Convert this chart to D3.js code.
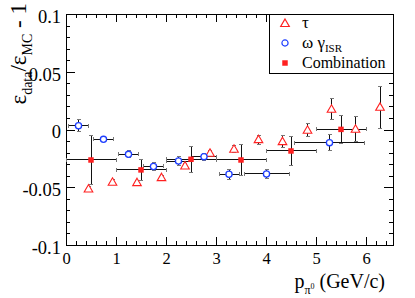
<!DOCTYPE html>
<html>
<head>
<meta charset="utf-8">
<script src="https://cdn.jsdelivr.net/npm/d3@7"></script>
</head>
<body style="margin:0">
<script>
// tau sample (open triangles)
var tauX = [0.45, 0.93, 1.42, 1.91, 2.38, 2.88, 3.36, 3.85, 4.33, 4.83, 5.31, 5.79, 6.28];
var tauY = [-0.0515, -0.0457, -0.046, -0.0417, -0.0316, -0.0206, -0.0171, -0.0088, -0.0105, -0.0006, 0.0175, 0.0002, 0.0192];
var tauErr = [0.002, 0.002, 0.002, 0.002, 0.002, 0.002, 0.003, 0.004, 0.005, 0.0055, 0.009, 0.011, 0.018];

// omega gamma ISR sample (open circles)
var omegaX = [0.25, 0.75, 1.25, 1.75, 2.25, 2.76, 3.26, 4.01, 5.27];
var omegaY = [0.0033, -0.0085, -0.0215, -0.032, -0.0273, -0.0235, -0.0388, -0.0385, -0.0114];
var omegaXErr = [0.2, 0.2, 0.2, 0.2, 0.25, 0.25, 0.2, 0.45, 0.7];
var omegaYErr = [0.0054, 0.002, 0.003, 0.0036, 0.004, 0.003, 0.0045, 0.004, 0.007];

// combination (filled squares)
var comboX = [0.5, 1.5, 2.5, 3.5, 4.5, 5.5];
var comboY = [-0.0264, -0.035, -0.0258, -0.0264, -0.0186, 0.0001];
var comboXErr = [0.5, 0.5, 0.5, 0.5, 0.5, 0.5];
var comboYErr = [0.0216, 0.009, 0.011, 0.013, 0.0128, 0.0123];

var xMajor = [0, 1, 2, 3, 4, 5, 6];
var yMajor = [-0.1, -0.05, 0, 0.05, 0.1];

var W = 415, H = 298;
var frame = {left: 66, right: 393, top: 14, bottom: 245};

var svg = d3.select("body").append("svg")
  .attr("width", W)
  .attr("height", H);

var x = d3.scaleLinear().domain([0, 6.54]).range([frame.left, frame.right]);
var y = d3.scaleLinear().domain([-0.1, 0.1]).range([frame.bottom, frame.top]);

var xMinor = d3.range(0, 6.54, 0.2);
var yMinor = d3.range(-0.1, 0.1001, 0.01);

var fmt = function(d) { return String(+d.toFixed(2)); };

// serif label helper
var label = function(sel, size) {
  return sel.style("font-family", "'Liberation Serif'").style("font-size", size + "px");
};

// axes, ticks pointing inwards
var axes = svg.append("g");

var drawAxis = function(axis, tx, ty) {
  var g = axes.append("g").attr("transform", "translate(" + tx + "," + ty + ")").call(axis);
  g.select(".domain").remove();
  g.selectAll("line").attr("stroke", "#000").attr("shape-rendering", "crispEdges");
  return g;
};

drawAxis(d3.axisBottom(x).tickValues(xMinor).tickSize(-4).tickFormat(""), 0, frame.bottom).selectAll("text").remove();
drawAxis(d3.axisTop(x).tickValues(xMinor).tickSize(-4).tickFormat(""), 0, frame.top).selectAll("text").remove();
drawAxis(d3.axisTop(x).tickValues(xMajor).tickSize(-8).tickFormat(""), 0, frame.top).selectAll("text").remove();
drawAxis(d3.axisLeft(y).tickValues(yMinor).tickSize(-4).tickFormat(""), frame.left, 0).selectAll("text").remove();
drawAxis(d3.axisRight(y).tickValues(yMinor).tickSize(-4).tickFormat(""), frame.right, 0).selectAll("text").remove();
drawAxis(d3.axisRight(y).tickValues(yMajor).tickSize(-9).tickFormat(""), frame.right, 0).selectAll("text").remove();

var gx = drawAxis(d3.axisBottom(x).tickValues(xMajor).tickSize(-8).tickPadding(7).tickFormat(fmt), 0, frame.bottom);
label(gx.selectAll("text").attr("fill", "#000"), 16.5);

var gy = drawAxis(d3.axisLeft(y).tickValues(yMajor).tickSize(-9).tickPadding(5).tickFormat(fmt), frame.left, 0);
label(gy.selectAll("text").attr("fill", "#000").attr("dy", "0.45em"), 18.5);

svg.append("rect")
  .attr("x", frame.left).attr("y", frame.top)
  .attr("width", frame.right - frame.left).attr("height", frame.bottom - frame.top)
  .attr("fill", "none").attr("stroke", "#000").attr("shape-rendering", "crispEdges");

// error bars with small end caps
var errLayer = svg.append("g").attr("stroke", "#111").attr("stroke-width", 1).attr("shape-rendering", "crispEdges");

var drawErrors = function(xs, ys, xe, ye) {
  xs.forEach(function(xv, i) {
    var cx = x(xv), cy = y(ys[i]);
    if (xe && xe[i] > 0) {
      var x0 = x(xv - xe[i]), x1 = x(xv + xe[i]);
      errLayer.append("line").attr("x1", x0).attr("x2", x1).attr("y1", cy).attr("y2", cy);
      errLayer.append("line").attr("x1", x0).attr("x2", x0).attr("y1", cy - 2).attr("y2", cy + 2).attr("stroke", "#777");
      errLayer.append("line").attr("x1", x1).attr("x2", x1).attr("y1", cy - 2).attr("y2", cy + 2).attr("stroke", "#777");
    }
    if (ye && ye[i] > 0) {
      var y0 = y(ys[i] - ye[i]), y1 = y(ys[i] + ye[i]);
      errLayer.append("line").attr("x1", cx).attr("x2", cx).attr("y1", y0).attr("y2", y1);
      errLayer.append("line").attr("x1", cx - 2).attr("x2", cx + 2).attr("y1", y0).attr("y2", y0).attr("stroke", "#777");
      errLayer.append("line").attr("x1", cx - 2).attr("x2", cx + 2).attr("y1", y1).attr("y2", y1).attr("stroke", "#777");
    }
  });
};

drawErrors(tauX, tauY, null, tauErr);
drawErrors(omegaX, omegaY, omegaXErr, omegaYErr);
drawErrors(comboX, comboY, comboXErr, comboYErr);

var triangle = d3.symbol().type(d3.symbolTriangle).size(32);
var circle = d3.symbol().type(d3.symbolCircle).size(30);
var square = d3.symbol().type(d3.symbolSquare).size(30);

var red = "#ff2020", blue = "#1f3fff";

svg.append("g").selectAll("path").data(tauX).enter().append("path")
  .attr("d", triangle)
  .attr("transform", function(d, i) { return "translate(" + x(d) + "," + (y(tauY[i]) + 0.5) + ")"; })
  .attr("fill", "#fff").attr("stroke", red).attr("stroke-width", 1.1);

svg.append("g").selectAll("path").data(omegaX).enter().append("path")
  .attr("d", circle)
  .attr("transform", function(d, i) { return "translate(" + x(d) + "," + y(omegaY[i]) + ")"; })
  .attr("fill", "#fff").attr("stroke", blue).attr("stroke-width", 1.3);

svg.append("g").selectAll("path").data(comboX).enter().append("path")
  .attr("d", square)
  .attr("transform", function(d, i) { return "translate(" + x(d) + "," + y(comboY[i]) + ")"; })
  .attr("fill", red);

// legend
var lg = svg.append("g");
lg.append("rect")
  .attr("x", 269).attr("y", frame.top).attr("width", frame.right - 269).attr("height", 59)
  .attr("fill", "#fff").attr("stroke", "#000").attr("shape-rendering", "crispEdges");

var legendRows = [
  {y: 24, sym: triangle, fill: "#fff", stroke: red},
  {y: 43, sym: circle, fill: "#fff", stroke: blue},
  {y: 63, sym: square, fill: red, stroke: "none"}
];
legendRows.forEach(function(r) {
  lg.append("path").attr("d", r.sym).attr("transform", "translate(285," + r.y + ")")
    .attr("fill", r.fill).attr("stroke", r.stroke).attr("stroke-width", 1.2);
});

label(lg.append("text").attr("x", 302).attr("y", 28), 17).text("τ");
var t2 = label(lg.append("text").attr("x", 302).attr("y", 48), 17);
t2.append("tspan").text("ω γ");
t2.append("tspan").style("font-size", "11px").attr("dy", 4).text("ISR");
label(lg.append("text").attr("x", 302).attr("y", 68), 16).text("Combination");

// axis titles
var yt = label(svg.append("text")
  .attr("transform", "translate(26,3) rotate(-90)")
  .attr("text-anchor", "end"), 23);
yt.append("tspan").text("ε");
yt.append("tspan").style("font-size", "14px").attr("dy", 6).text("data");
yt.append("tspan").attr("dy", -6).text("/ε");
yt.append("tspan").style("font-size", "14px").attr("dy", 6).text("MC");
yt.append("tspan").attr("dy", -6).text(" - 1");

var xt = label(svg.append("text")
  .attr("x", 385).attr("y", 288)
  .attr("text-anchor", "end"), 20);
xt.append("tspan").text("p");
xt.append("tspan").style("font-size", "12px").attr("dy", 6).text("π");
xt.append("tspan").style("font-size", "8px").attr("dy", -5).text("0");
xt.append("tspan").attr("dy", -1).text(" (GeV/c)");
</script>
</body>
</html>
